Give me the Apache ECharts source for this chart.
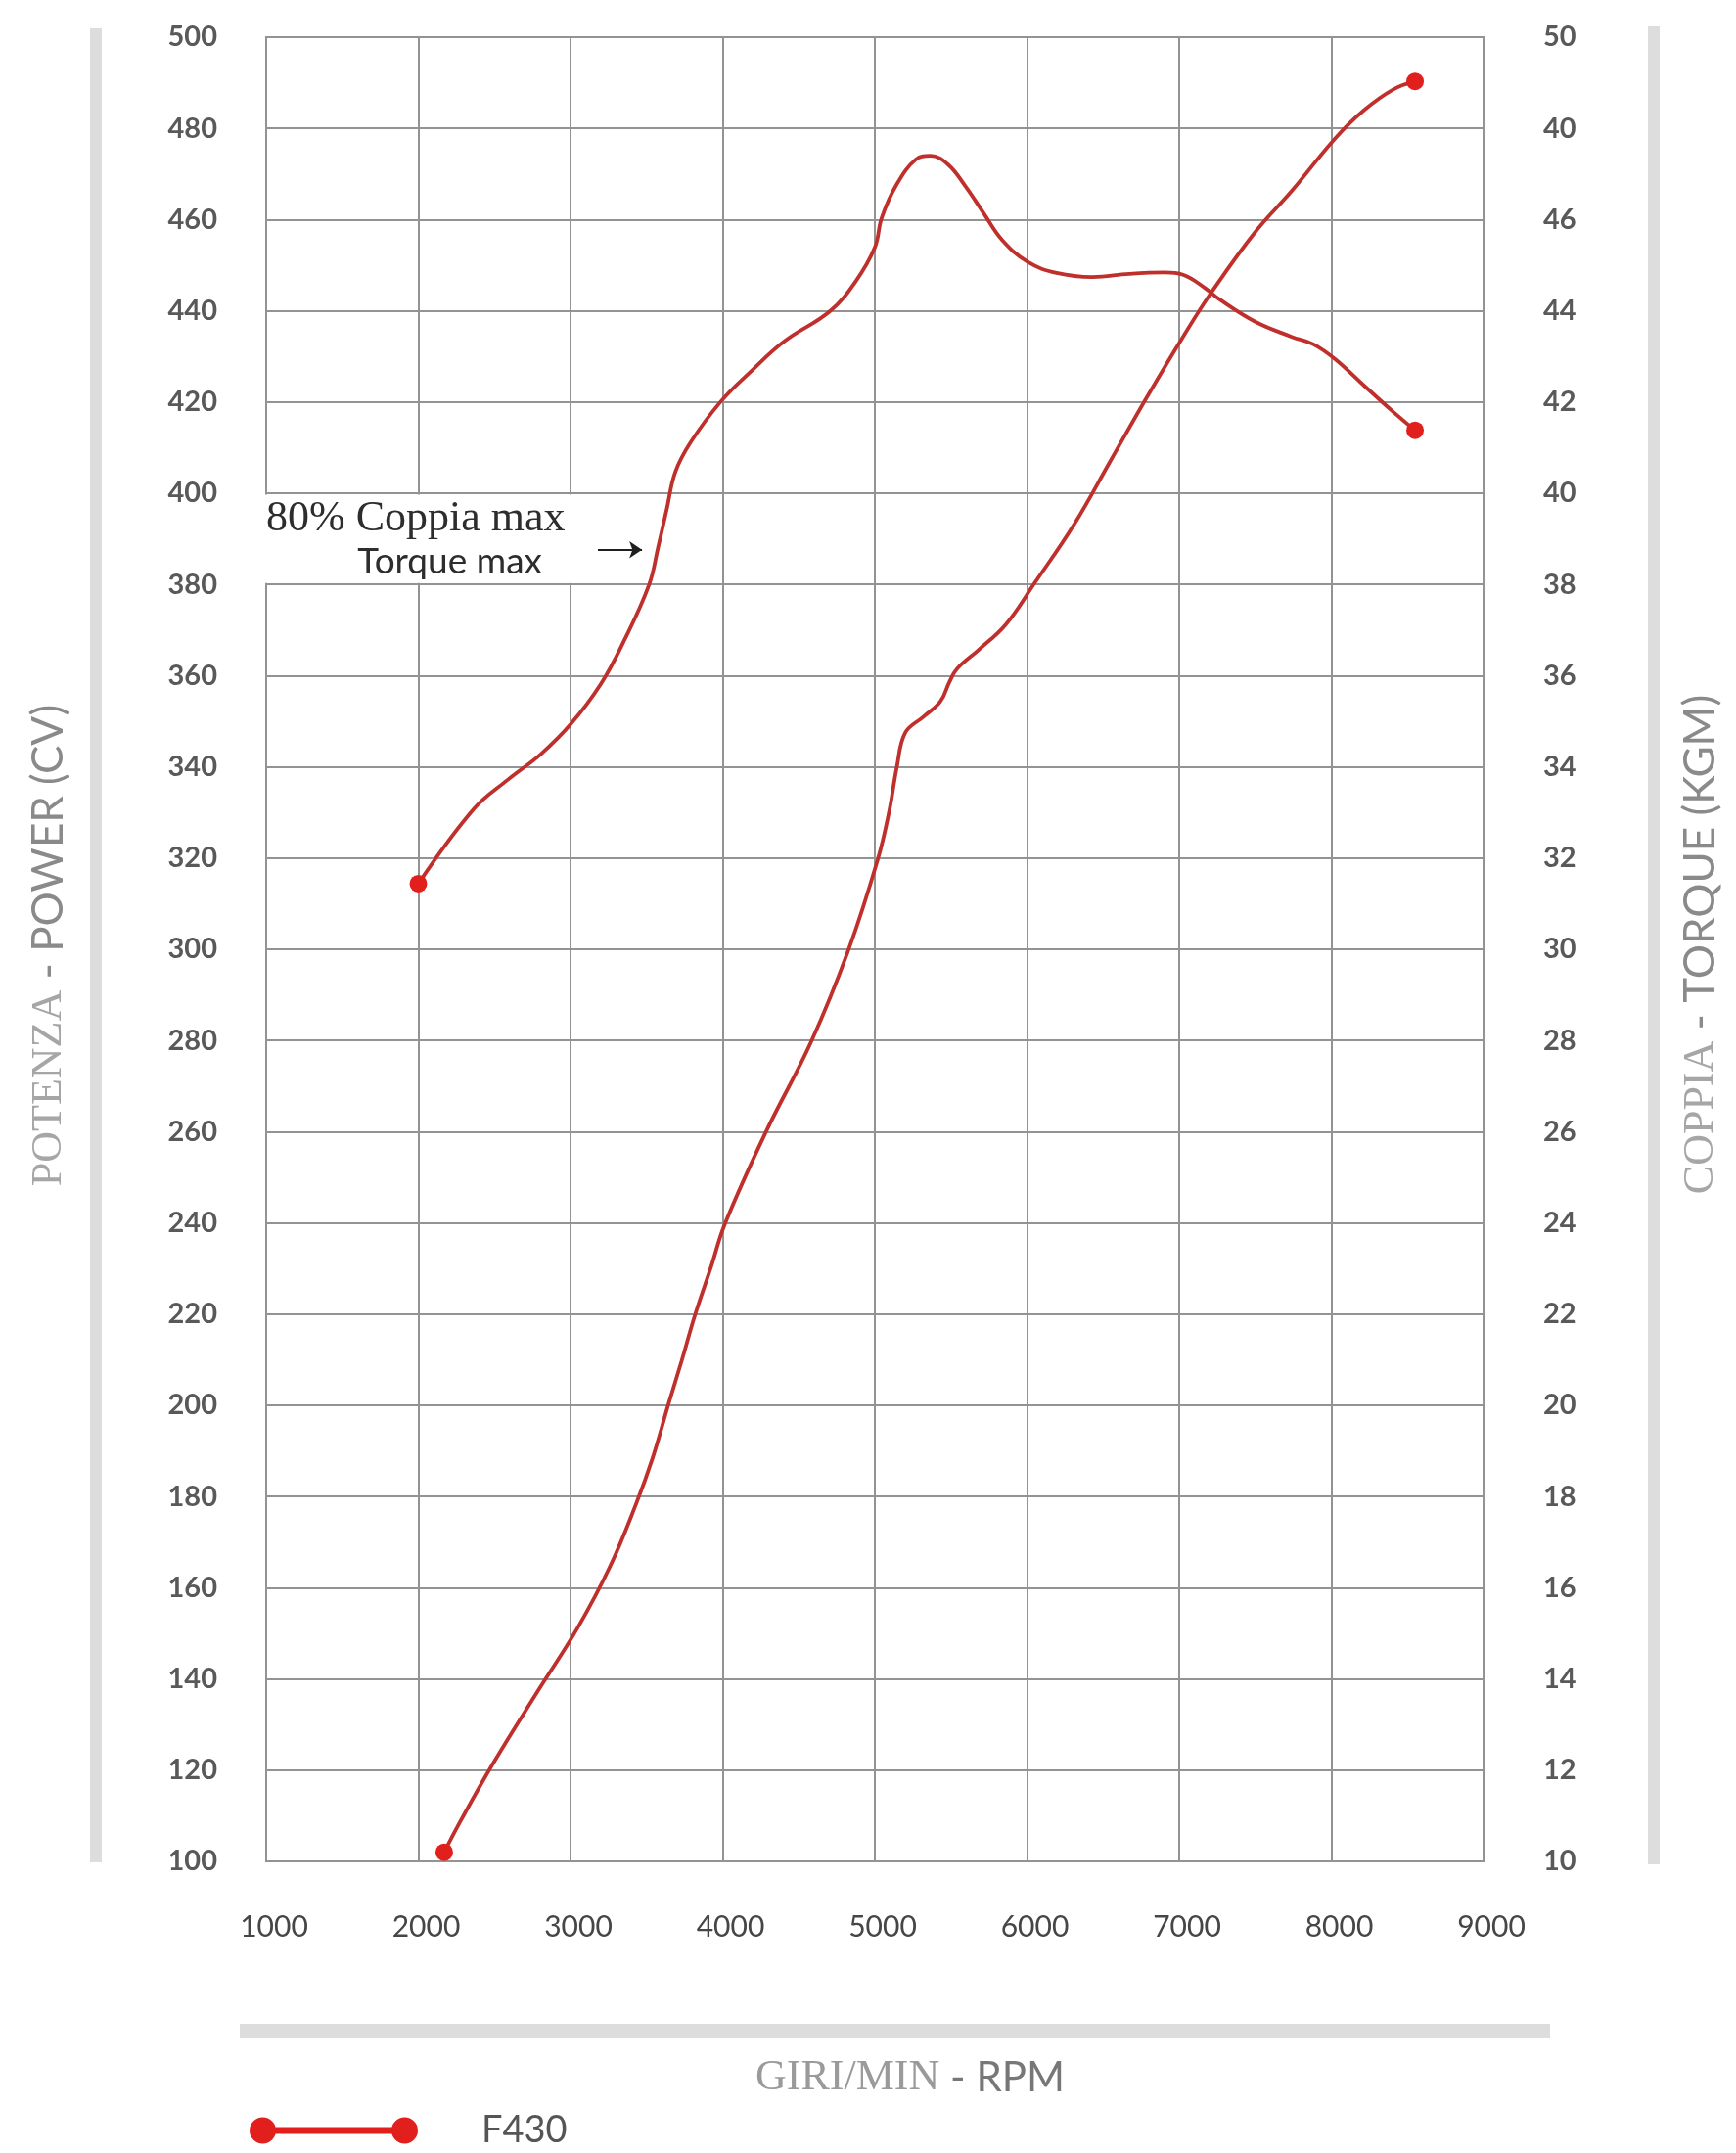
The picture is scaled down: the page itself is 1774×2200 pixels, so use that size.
<!DOCTYPE html>
<html>
<head>
<meta charset="utf-8">
<title>F430 - Potenza e Coppia</title>
<script src="https://cdn.jsdelivr.net/npm/echarts@6/dist/echarts.min.js"></script>
<style>
  html, body { margin: 0; padding: 0; background: #ffffff; }
  #chart { width: 1774px; height: 2200px; }
</style>
</head>
<body>
<div id="chart"></div>
<script>
// Axis tick labels
const rpmTickLabels = ['1000', '2000', '3000', '4000', '5000', '6000', '7000', '8000', '9000'];
const powerTickLabels = ['100', '120', '140', '160', '180', '200', '220', '240', '260', '280', '300',
  '320', '340', '360', '380', '400', '420', '440', '460', '480', '500'];
const torqueTickLabels = ['10', '12', '14', '16', '18', '20', '22', '24', '26', '28', '30',
  '32', '34', '36', '38', '40', '42', '44', '46', '40', '50'];

// Power curve (CV) against engine speed (giri/min)
const powerRpm = [2170, 2275, 2490, 2790, 3045, 3260, 3430, 3540, 3645, 3730, 3820, 3925, 4015,
  4285, 4580, 4825, 5020, 5095, 5145, 5200, 5320, 5430, 5490, 5540, 5680, 5860, 6050, 6310,
  6550, 6790, 7025, 7215, 7500, 7740, 8025, 8215, 8405, 8550];
const powerCv = [102, 108.7, 121.4, 137.6, 151.1, 164.7, 178.3, 188.5, 200.4, 209.7, 220, 230.5, 239.8,
  260, 279.6, 299.7, 319.8, 330.4, 340, 347.5, 351, 354.3, 358.6, 361.5, 365.6, 371.2, 380.3, 393.2,
  407.2, 421.2, 434.3, 444.2, 457.3, 466.3, 477.8, 484, 488.5, 490.3];

// Torque curve (kgm) against engine speed (giri/min)
const torqueRpm = [2000, 2365, 2585, 2805, 3005, 3200, 3350, 3516, 3576, 3632, 3688, 3790, 3990,
  4185, 4405, 4705, 4875, 5000, 5045, 5145, 5270, 5365, 5480, 5600, 5715, 5835, 6005, 6195,
  6430, 6670, 6905, 7025, 7170, 7265, 7500, 7740, 7880, 8025, 8215, 8405, 8550];
const torqueKgm = [31.44, 33.08, 33.71, 34.28, 34.95, 35.82, 36.75, 37.99, 38.82, 39.64, 40.46, 41.12, 42.02,
  42.67, 43.33, 43.99, 44.65, 45.39, 46.04, 46.78, 47.32, 47.4, 47.21, 46.71, 46.14, 45.56, 45.07, 44.83,
  44.74, 44.81, 44.84, 44.79, 44.5, 44.25, 43.76, 43.43, 43.27, 42.94, 42.36, 41.79, 41.38];

const seriesName = 'F430';

const GRID_COLOR = '#939393';
const CURVE_COLOR = '#bf2f2b';
const DOT_COLOR = '#e1201e';

// Only the first and last reading of each curve carries a dot
function buildPoints(xs, ys) {
  return xs.map(function (x, i) {
    const isEnd = i === 0 || i === xs.length - 1;
    return isEnd
      ? { value: [x, ys[i]], symbolSize: 18 }
      : { value: [x, ys[i]] };
  });
}

const chart = echarts.init(document.getElementById('chart'), null, { renderer: 'canvas' });

const curveBase = {
  type: 'line',
  name: seriesName,
  smooth: 0.4,
  symbol: 'circle',
  symbolSize: 0,
  showSymbol: true,
  silent: true,
  lineStyle: { color: CURVE_COLOR, width: 3.8 },
  itemStyle: { color: DOT_COLOR },
  emphasis: { disabled: true },
  z: 3
};

const option = {
  animation: false,
  backgroundColor: '#ffffff',
  grid: {
    left: 272, right: 258, top: 38, bottom: 298,
    containLabel: false,
    show: true,
    borderColor: GRID_COLOR,
    borderWidth: 2,
    backgroundColor: 'transparent'
  },
  legend: {
    data: [seriesName],
    left: 250,
    top: 2153,
    itemWidth: 172,
    itemHeight: 27,
    icon: 'path://M0,13.5 A13.5,13.5 0 1 1 27,13.5 A13.5,13.5 0 1 1 0,13.5 Z M13,10 L159,10 L159,17 L13,17 Z M145,13.5 A13.5,13.5 0 1 1 172,13.5 A13.5,13.5 0 1 1 145,13.5 Z',
    selectedMode: false,
    textStyle: {
      fontFamily: 'Lato',
      fontSize: 38,
      color: '#555555',
      padding: [0, 0, 0, 60]
    }
  },
  xAxis: {
    type: 'value',
    min: 1000,
    max: 9000,
    interval: 1000,
    axisLine: { show: false },
    axisTick: { show: false },
    splitLine: { show: true, lineStyle: { color: GRID_COLOR, width: 2 } },
    axisLabel: {
      margin: 52,
      fontFamily: 'Lato',
      fontSize: 30,
      color: '#464646',
      padding: [0, 0, 0, 16],
      formatter: function (v) { return rpmTickLabels[Math.round((v - 1000) / 1000)]; }
    }
  },
  yAxis: [
    {
      type: 'value',
      position: 'left',
      min: 100,
      max: 500,
      interval: 20,
      axisLine: { show: false },
      axisTick: { show: false },
      splitLine: { show: true, lineStyle: { color: GRID_COLOR, width: 2 } },
      axisLabel: {
        margin: 50,
        fontFamily: 'Lato',
        fontWeight: 'bold',
        fontSize: 29,
        color: '#595959',
        formatter: function (v) { return powerTickLabels[Math.round((v - 100) / 20)]; }
      }
    },
    {
      type: 'value',
      position: 'right',
      min: 10,
      max: 50,
      interval: 2,
      axisLine: { show: false },
      axisTick: { show: false },
      splitLine: { show: false },
      axisLabel: {
        margin: 61,
        fontFamily: 'Lato',
        fontWeight: 'bold',
        fontSize: 29,
        color: '#595959',
        formatter: function (v) { return torqueTickLabels[Math.round((v - 10) / 2)]; }
      }
    }
  ],
  series: [
    Object.assign({}, curveBase, {
      yAxisIndex: 0,
      data: buildPoints(powerRpm, powerCv),
      markLine: {
        silent: true,
        symbol: ['none', 'arrow'],
        symbolSize: 13,
        label: { show: false },
        emphasis: { disabled: true },
        lineStyle: { color: '#1f1f1f', width: 2, type: 'solid' },
        data: [[{ coord: [3180, 387.6] }, { coord: [3470, 387.6] }]]
      }
    }),
    Object.assign({}, curveBase, {
      yAxisIndex: 1,
      data: buildPoints(torqueRpm, torqueKgm)
    })
  ]
};

chart.setOption(option);

// Decorations placed from the axes' own scales
function px(rpm, cv) {
  return chart.convertToPixel({ gridIndex: 0 }, [rpm, cv]);
}

const topLeft = px(1000, 400);
const bottomRight = px(3480, 380);
const coppiaAt = px(1000, 394.4);
const torqueAt = px(1600, 385);

const barColor = '#dddddd';

chart.setOption({
  graphic: [
    // white band behind the annotation text
    {
      type: 'rect', z: 1, silent: true,
      shape: {
        x: topLeft[0] - 4,
        y: topLeft[1] + 1.5,
        width: bottomRight[0] - topLeft[0] + 4,
        height: bottomRight[1] - topLeft[1] - 3
      },
      style: { fill: '#ffffff' }
    },
    {
      type: 'text', z: 6, silent: true,
      x: coppiaAt[0], y: coppiaAt[1],
      style: {
        text: '80% Coppia max',
        fontFamily: 'Liberation Serif',
        fontSize: 44,
        fill: '#2d2d2d',
        align: 'left',
        verticalAlign: 'middle'
      }
    },
    {
      type: 'text', z: 6, silent: true,
      x: torqueAt[0], y: torqueAt[1],
      style: {
        text: 'Torque max',
        fontFamily: 'Lato',
        fontSize: 37,
        fill: '#2d2d2d',
        align: 'left',
        verticalAlign: 'middle'
      }
    },
    // side and bottom rules
    { type: 'rect', silent: true, shape: { x: 92, y: 29, width: 12, height: 1874 }, style: { fill: barColor } },
    { type: 'rect', silent: true, shape: { x: 1684, y: 27, width: 12, height: 1878 }, style: { fill: barColor } },
    { type: 'rect', silent: true, shape: { x: 245, y: 2068, width: 1339, height: 14 }, style: { fill: barColor } },
    // axis titles
    {
      type: 'text', silent: true,
      x: 50, y: 966, rotation: Math.PI / 2,
      style: {
        text: '{s|POTENZA}{g| - POWER (CV)}',
        align: 'center', verticalAlign: 'middle',
        rich: {
          s: { fontFamily: 'Liberation Serif', fontSize: 44, fill: '#a6a6a6' },
          g: { fontFamily: 'Lato', fontSize: 44, fill: '#8a8a8a' }
        }
      }
    },
    {
      type: 'text', silent: true,
      x: 1738, y: 965, rotation: Math.PI / 2,
      style: {
        text: '{s|COPPIA}{g| - TORQUE (KGM)}',
        align: 'center', verticalAlign: 'middle',
        rich: {
          s: { fontFamily: 'Liberation Serif', fontSize: 44, fill: '#a6a6a6' },
          g: { fontFamily: 'Lato', fontSize: 44, fill: '#8a8a8a' }
        }
      }
    },
    {
      type: 'text', silent: true,
      x: 930, y: 2123,
      style: {
        text: '{s|GIRI/MIN}{g| - RPM}',
        align: 'center', verticalAlign: 'middle',
        rich: {
          s: { fontFamily: 'Liberation Serif', fontSize: 44, fill: '#9a9a9a' },
          g: { fontFamily: 'Lato', fontSize: 42, fill: '#777777' }
        }
      }
    }
  ]
});
</script>
</body>
</html>
